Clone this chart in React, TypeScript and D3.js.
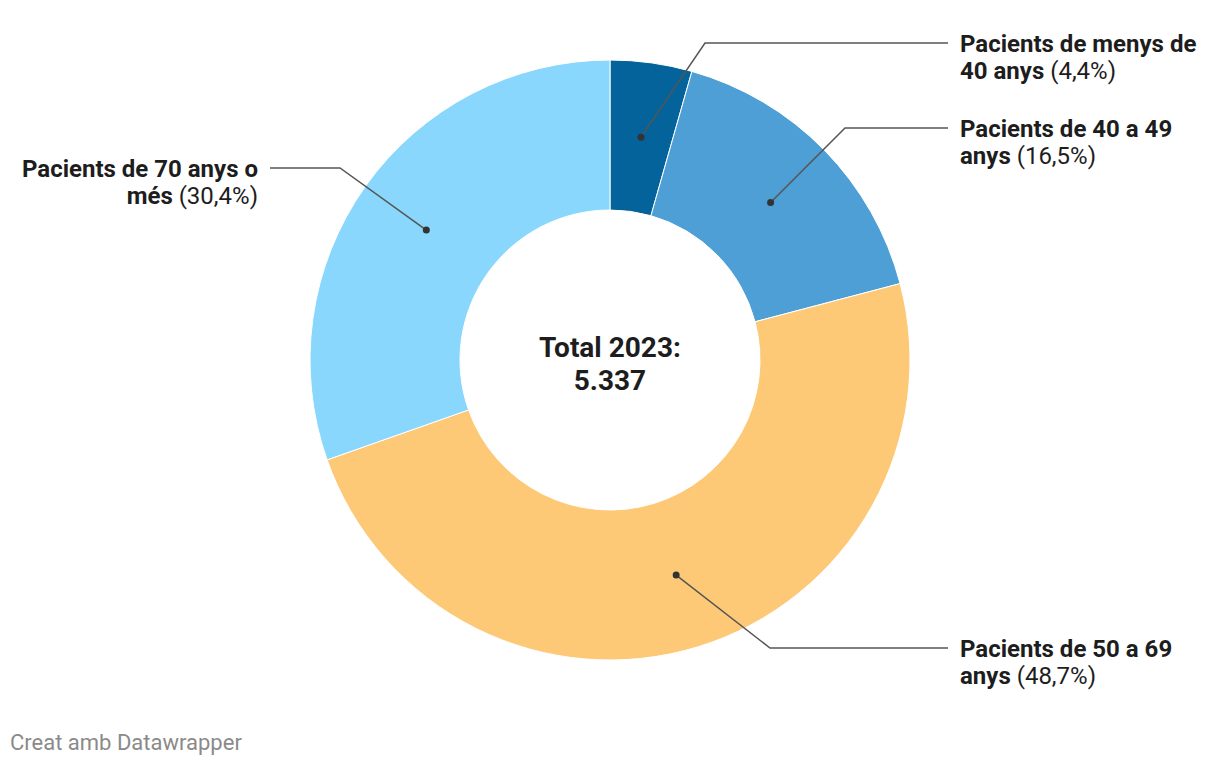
import React from "react";
import * as d3 from "d3";

const categories = [
  "Pacients de menys de 40 anys",
  "Pacients de 40 a 49 anys",
  "Pacients de 50 a 69 anys",
  "Pacients de 70 anys o més",
];
const values = [4.4, 16.5, 48.7, 30.4];
const valueLabels = ["(4,4%)", "(16,5%)", "(48,7%)", "(30,4%)"];
const labelLine1 = ["Pacients de menys de", "Pacients de 40 a 49", "Pacients de 50 a 69", "Pacients de 70 anys o"];
const labelLine2 = ["40 anys", "anys", "anys", "més"];
const colors = ["#03639a", "#4e9fd5", "#fdc977", "#89d7fc"];
const total = "5.337";

// label layout: [elbow x, label y, side]
const labelLayout = [
  { ex: 705, ly: 43, side: "right" },
  { ex: 845, ly: 128, side: "right" },
  { ex: 770, ly: 648, side: "right" },
  { ex: 340, ly: 168, side: "left" },
];

const W = 1220;
const H = 766;
const cx = 610;
const cy = 360;
const outerR = 300;
const innerR = 150;

export default function App() {
  const pie = d3.pie<number>().sort(null).value((d) => d);
  const arcs = pie(values);
  const arcGen = d3.arc<d3.PieArcDatum<number>>().innerRadius(innerR).outerRadius(outerR);
  const midArc = d3.arc<d3.PieArcDatum<number>>().innerRadius(225).outerRadius(225);
  const font = "Roboto, 'Noto Sans', sans-serif";

  return (
    <svg width={W} height={H} style={{ position: "absolute", left: 0, top: 0, background: "#fff" }} fontFamily={font}>
      <g transform={`translate(${cx},${cy})`}>
        {arcs.map((a, i) => (
          <path key={i} d={arcGen(a) || ""} fill={colors[i]} stroke="#fff" strokeWidth={1} />
        ))}
      </g>
      {arcs.map((a, i) => {
        const [dx, dy] = midArc.centroid(a);
        const px = cx + dx;
        const py = cy + dy;
        const L = labelLayout[i];
        const right = L.side === "right";
        const endX = right ? 948 : 270;
        const tx = right ? 960 : 258;
        const anchor = right ? "start" : "end";
        return (
          <g key={i}>
            <polyline
              points={`${px},${py} ${L.ex},${L.ly} ${endX},${L.ly}`}
              fill="none"
              stroke="#555"
              strokeWidth={1.5}
            />
            <circle cx={px} cy={py} r={3.5} fill="#333" />
            <text x={tx} y={L.ly + 8.5} textAnchor={anchor} fontSize={24} fill="#1d1d1d">
              <tspan fontWeight="bold">{labelLine1[i]}</tspan>
            </text>
            <text x={tx} y={L.ly + 36} textAnchor={anchor} fontSize={24} fill="#1d1d1d">
              <tspan fontWeight="bold">{labelLine2[i]}</tspan>
              <tspan fontWeight="normal">{" " + valueLabels[i]}</tspan>
            </text>
          </g>
        );
      })}
      <text x={cx} y={357} textAnchor="middle" fontSize={28} fontWeight="bold" fill="#1d1d1d">
        Total 2023:
      </text>
      <text x={cx} y={390} textAnchor="middle" fontSize={28} fontWeight="bold" fill="#1d1d1d">
        {total}
      </text>
      <text x={10} y={750} fontSize={22} fill="#8a8a8a">
        Creat amb Datawrapper
      </text>
    </svg>
  );
}
